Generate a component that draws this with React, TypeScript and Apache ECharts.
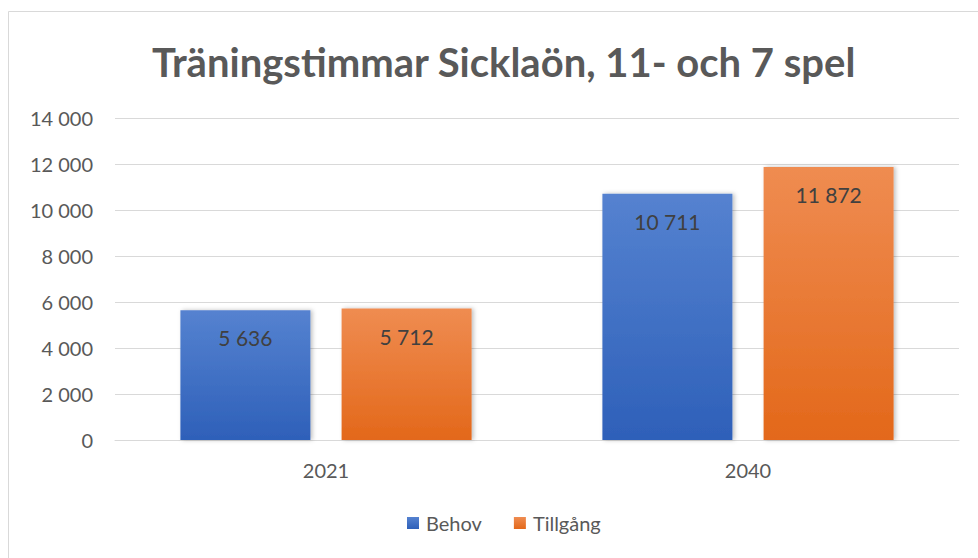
import React, { useEffect, useRef } from "react";
import * as echarts from "echarts";

const categories = ["2021", "2040"];
const behov = [5636, 10711];
const tillgang = [5712, 11872];
const seriesNames = ["Behov", "Tillgång"];
const title = "Träningstimmar Sicklaön, 11- och 7 spel";

const fmt = (v: number) => {
  const s = Math.round(v).toString();
  return s.replace(/\B(?=(\d{3})+(?!\d))/g, " ");
};

const FONT = "Lato, 'Open Sans', sans-serif";

export default function App() {
  const ref = useRef<HTMLDivElement>(null);
  useEffect(() => {
    if (!ref.current) return;
    const chart = echarts.init(ref.current, null, { renderer: "svg" });
    const grad = (top: string, bottom: string) =>
      new echarts.graphic.LinearGradient(0, 0, 0, 1, [
        { offset: 0, color: top },
        { offset: 1, color: bottom },
      ]);
    const label = {
      show: true,
      position: "insideTop",
      distance: 17,
      color: "#404040",
      fontSize: 21,
      fontFamily: FONT,
      formatter: (p: any) => fmt(p.value),
    };
    const shadow = {
      shadowBlur: 4,
      shadowColor: "rgba(0,0,0,0.25)",
      shadowOffsetX: 2,
      shadowOffsetY: 0,
    };
    chart.setOption({
      animation: false,
      backgroundColor: "#ffffff",
      graphic: [
        {
          type: "rect",
          shape: { x: 8.5, y: 11.5, width: 1000, height: 600 },
          style: { fill: "none", stroke: "#d9d9d9", lineWidth: 1 },
          silent: true,
        },
      ],
      title: {
        text: title,
        left: 147,
        top: 37,
        textStyle: {
          fontFamily: FONT,
          fontSize: 40,
          fontWeight: "bold",
          color: "#595959",
        },
      },
      legend: {
        bottom: 20,
        left: 402,
        itemWidth: 12,
        itemHeight: 12,
        itemGap: 32,
        icon: "rect",
        textStyle: { fontFamily: FONT, fontSize: 20, color: "#595959", padding: [0, 0, 0, 2] },
        data: seriesNames,
      },
      grid: { left: 115, right: 19, top: 118, bottom: 118, containLabel: false },
      xAxis: {
        type: "category",
        data: categories,
        axisLine: { lineStyle: { color: "#d9d9d9" } },
        axisTick: { show: false },
        axisLabel: { fontFamily: FONT, fontSize: 20, color: "#595959", margin: 20 },
      },
      yAxis: {
        type: "value",
        min: 0,
        max: 14000,
        interval: 2000,
        axisLine: { show: false },
        axisTick: { show: false },
        splitLine: { lineStyle: { color: "#d9d9d9", width: 1 } },
        axisLabel: {
          fontFamily: FONT,
          fontSize: 20,
          color: "#595959",
          margin: 22,
          formatter: (v: number) => fmt(v),
        },
      },
      series: [
        {
          name: seriesNames[0],
          type: "bar",
          data: behov,
          barWidth: 130,
          barGap: "24%",
          itemStyle: { color: grad("#5582d0", "#2e60b9"), ...shadow },
          label,
        },
        {
          name: seriesNames[1],
          type: "bar",
          data: tillgang,
          barWidth: 130,
          barGap: "24%",
          itemStyle: { color: grad("#ef8c51", "#e3681a"), ...shadow },
          label,
        },
      ],
    });
    return () => chart.dispose();
  }, []);
  return (
    <div
      ref={ref}
      style={{ position: "absolute", left: 0, top: 0, width: 978, height: 558 }}
    />
  );
}
